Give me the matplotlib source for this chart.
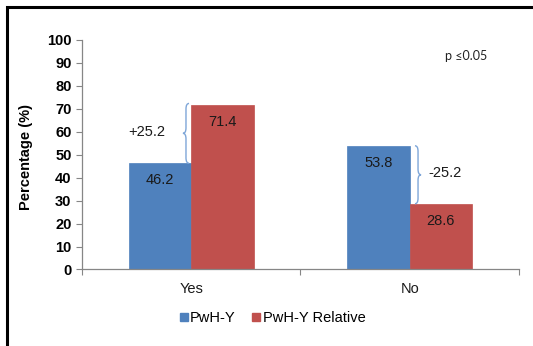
import matplotlib
matplotlib.use("Agg")
import matplotlib.pyplot as plt
from matplotlib.path import Path
from matplotlib.patches import PathPatch, Rectangle
from matplotlib.lines import Line2D
import numpy as np

categories = ["Yes", "No"]
series_names = ["PwH-Y", "PwH-Y Relative"]
pwh_y = [46.2, 53.8]
pwh_y_relative = [71.4, 28.6]
differences = ["+25.2", "-25.2"]
y_ticks = [0, 10, 20, 30, 40, 50, 60, 70, 80, 90, 100]
p_note = "p \u22640.05"

BLUE = "#4F81BD"
RED = "#C0504D"
AXIS_GREY = "#868686"
BRACE_BLUE = "#7EA6D8"

plt.rcParams["font.family"] = ["Liberation Sans", "DejaVu Sans"]

fig = plt.figure(figsize=(5.33, 3.46), dpi=100)
ax = fig.add_axes([0.1538, 0.2211, 0.8199, 0.6647])

x = np.arange(len(categories))
w = 0.285
b1 = ax.bar(x - w / 2, pwh_y, w, color=BLUE, edgecolor=BLUE, linewidth=0.5, label=series_names[0])
b2 = ax.bar(x + w / 2, pwh_y_relative, w, color=RED, edgecolor=RED, linewidth=0.5, label=series_names[1])

# value labels inside the top of each bar
for bars, vals in ((b1, pwh_y), (b2, pwh_y_relative)):
    for rect, v in zip(bars, vals):
        ax.annotate(f"{v:.1f}", (rect.get_x() + rect.get_width() / 2, v),
                    xytext=(0, -12.2), textcoords="offset points",
                    ha="center", va="center", fontsize=10.5, color="#1a1a1a")

ax.set_xlim(-0.5, 1.5)
ax.set_ylim(0, 100)
ax.set_yticks(y_ticks)
ax.set_yticklabels([str(t) for t in y_ticks], fontweight="bold", fontsize=10.5)

ax.set_xticks([-0.5, 0.5, 1.5])
ax.set_xticklabels([])
ax.set_xticks(x, minor=True)
ax.set_xticklabels(categories, minor=True, fontsize=10.5, color="#1a1a1a")
ax.tick_params(axis="x", which="minor", length=0, pad=9)
ax.tick_params(axis="x", which="major", length=4, color=AXIS_GREY, direction="out")
ax.tick_params(axis="y", length=4, color=AXIS_GREY, direction="out", pad=3.5)

for side in ("top", "right"):
    ax.spines[side].set_visible(False)
for side in ("left", "bottom"):
    ax.spines[side].set_color(AXIS_GREY)
    ax.spines[side].set_linewidth(0.9)

ax.set_ylabel("Percentage (%)", fontweight="bold", fontsize=10.5)
ax.yaxis.set_label_coords(-0.113, 0.49)


def brace(ax, xc, y_low, y_high, direction, curl=0.014, point=0.014, h=2.4):
    """Curly brace along a vertical span; direction -1 points left, +1 right."""
    ym = (y_low + y_high) / 2
    c = -direction * curl
    p = direction * point
    verts = [
        (xc + c, y_high), (xc, y_high), (xc, y_high - h),
        (xc, ym + h),
        (xc, ym), (xc + p, ym),
        (xc, ym), (xc, ym - h),
        (xc, y_low + h),
        (xc, y_low), (xc + c, y_low),
    ]
    codes = [Path.MOVETO, Path.CURVE3, Path.CURVE3,
             Path.LINETO,
             Path.CURVE3, Path.CURVE3,
             Path.CURVE3, Path.CURVE3,
             Path.LINETO,
             Path.CURVE3, Path.CURVE3]
    ax.add_patch(PathPatch(Path(verts, codes), fill=False, edgecolor=BRACE_BLUE, linewidth=1.0))


brace(ax, -0.024, pwh_y[0], pwh_y_relative[0] + 0.8, -1)
brace(ax, 1.038, pwh_y_relative[1], pwh_y[1], +1)

ax.text(-0.205, (pwh_y[0] + pwh_y_relative[0]) / 2 + 0.9, differences[0],
        ha="center", va="center", fontsize=10.5, color="#1a1a1a")
ax.text(1.085, (pwh_y[1] + pwh_y_relative[1]) / 2 + 0.9, differences[1],
        ha="left", va="center", fontsize=10.5, color="#1a1a1a")

ax.text(1.257, 92.8, p_note, ha="center", va="center", fontsize=9,
        color="#222222", family=["Lato", "DejaVu Sans"])

handles = [Line2D([], [], marker="s", linestyle="none", markersize=5.5,
                  markerfacecolor=c, markeredgecolor=c) for c in (BLUE, RED)]
fig.legend(handles, series_names, loc="center", bbox_to_anchor=(0.511, 0.081),
           ncol=2, frameon=False, fontsize=10.5, handlelength=0.6,
           handletextpad=0.15, columnspacing=1.1)

# outer frame around the figure
fig.patches.append(Rectangle((0.014, -0.05), 1.1, 0.979 + 0.05, transform=fig.transFigure,
                             fill=False, edgecolor="black", linewidth=2.2, clip_on=False))

fig.savefig("out.png", dpi=100, facecolor="white")
